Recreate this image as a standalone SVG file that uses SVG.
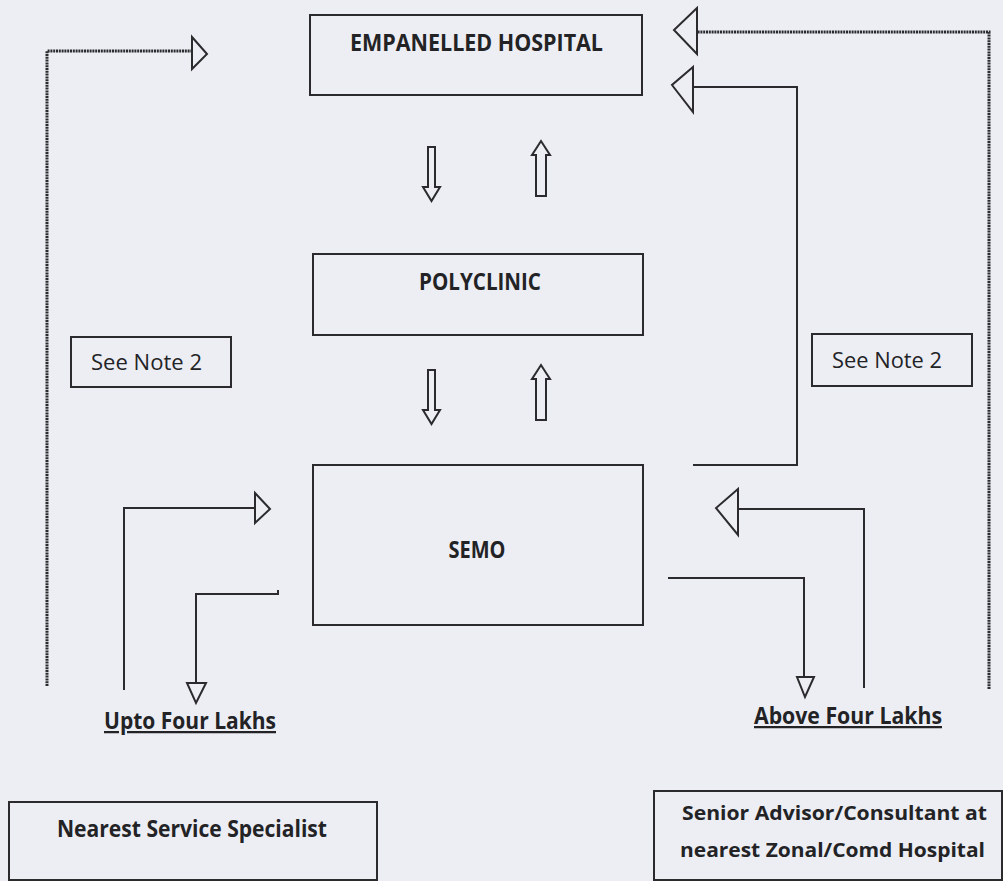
<svg xmlns="http://www.w3.org/2000/svg" width="1003" height="881" viewBox="0 0 1003 881">
<style>
.box{fill:none;stroke:#2b2b2e;stroke-width:2}
.ln{fill:none;stroke:#2b2b2e;stroke-width:2}
.dot{fill:none;stroke:#2b2b2e;stroke-width:3;stroke-dasharray:2 0.8}
.hd{fill:#eceef4;stroke:#2b2b2e;stroke-width:2;stroke-linejoin:miter}
.t{font-family:"Open Sans",Lato,"Liberation Sans",sans-serif;font-size:22.5px;fill:#232326;text-anchor:middle}
.s{font-size:20px}
.b{font-weight:bold}
.u{text-decoration:underline}
</style>
<rect width="1003" height="881" fill="#eceef4"/>
<g id="connectors">
<path class="dot" d="M47,686 V51 H192"/>
<polygon class="hd" points="192,37 207,54 192,69"/>
<path class="dot" d="M989,689 V32 H697"/>
<polygon class="hd" points="697,8 674,30 697,54"/>
<path class="ln" d="M693,465 H797 V87 H693"/>
<polygon class="hd" points="693,67 672,85 693,112"/>
<path class="ln" d="M124,690 V508 H255"/>
<polygon class="hd" points="255,493 270,509 255,523"/>
<path class="ln" d="M278,590 V594 H196 V683"/>
<polygon class="hd" points="187,683 206,683 196,703"/>
<path class="ln" d="M864,688 V509 H738"/>
<polygon class="hd" points="738,489 716,508 738,535"/>
<path class="ln" d="M668,578 H804 V677"/>
<polygon class="hd" points="797,677 814,677 805,697"/>
<polygon class="hd" points="428,147 435,147 435,187 440,187 431.5,201 423,187 428,187"/>
<polygon class="hd" points="536,196 546,196 546,155 550,155 541,141 532,155 536,155"/>
<polygon class="hd" points="428,370 435,370 435,410 440,410 431.5,424 423,410 428,410"/>
<polygon class="hd" points="536,420 546,420 546,379 550,379 541,365 532,379 536,379"/>
</g>
<g id="empanelled">
<rect class="box" x="310" y="15" width="332" height="80"/>
<text class="t b" x="476.5" y="51" textLength="253" lengthAdjust="spacingAndGlyphs">EMPANELLED HOSPITAL</text>
</g>
<g id="polyclinic">
<rect class="box" x="313" y="254" width="330" height="81"/>
<text class="t b" x="480" y="290" textLength="122" lengthAdjust="spacingAndGlyphs">POLYCLINIC</text>
</g>
<g id="semo">
<rect class="box" x="313" y="465" width="330" height="160"/>
<text class="t b" x="477" y="558" textLength="57" lengthAdjust="spacingAndGlyphs">SEMO</text>
</g>
<g id="note-left">
<rect class="box" x="71" y="337" width="160" height="50"/>
<text class="t" x="146.5" y="370" textLength="111" lengthAdjust="spacingAndGlyphs">See Note 2</text>
</g>
<g id="note-right">
<rect class="box" x="812" y="334" width="160" height="52"/>
<text class="t" x="887" y="368" textLength="110" lengthAdjust="spacingAndGlyphs">See Note 2</text>
</g>
<g id="upto">
<text class="t b u" x="190" y="729" textLength="172" lengthAdjust="spacingAndGlyphs">Upto Four Lakhs</text>
</g>
<g id="above">
<text class="t b u" x="848" y="724" textLength="188" lengthAdjust="spacingAndGlyphs">Above Four Lakhs</text>
</g>
<g id="nearest">
<rect class="box" x="9" y="802" width="368" height="78"/>
<text class="t b" x="192" y="837" textLength="270" lengthAdjust="spacingAndGlyphs">Nearest Service Specialist</text>
</g>
<g id="senior">
<rect class="box" x="654" y="791" width="348" height="89"/>
<text class="t b s" x="834.5" y="820" textLength="305" lengthAdjust="spacingAndGlyphs">Senior Advisor/Consultant at</text>
<text class="t b s" x="832.5" y="857" textLength="305" lengthAdjust="spacingAndGlyphs">nearest Zonal/Comd Hospital</text>
</g>
</svg>
